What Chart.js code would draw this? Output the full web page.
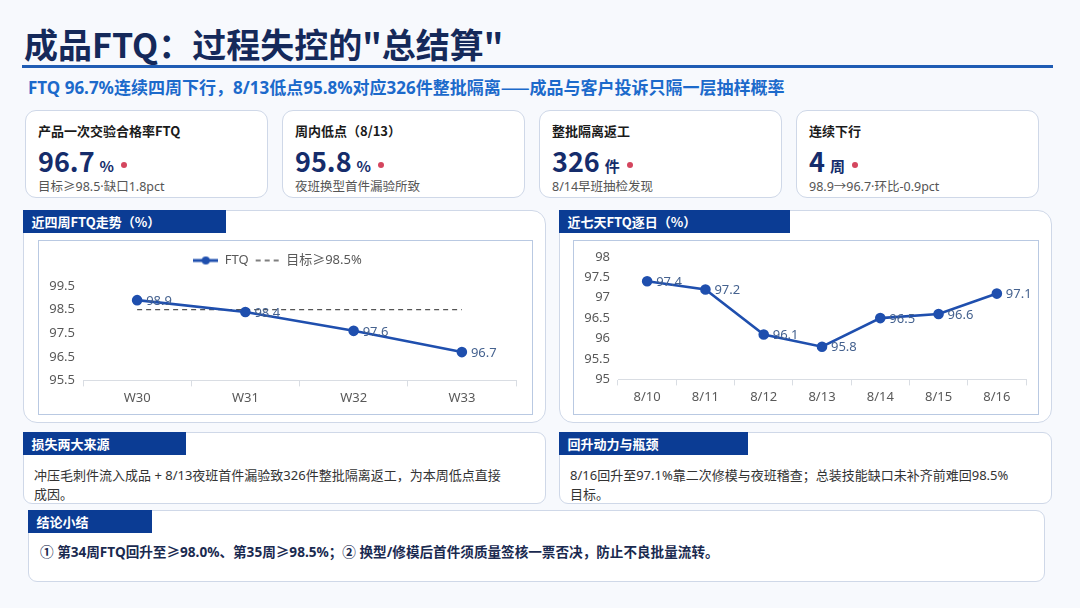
<!DOCTYPE html>
<html><head><meta charset="utf-8">
<script src="https://cdn.jsdelivr.net/npm/chart.js@4/dist/chart.umd.min.js"></script>
<style>
*{box-sizing:border-box;margin:0;padding:0}
body{width:1080px;height:608px;background:#f7f9fd;font-family:"Noto Sans CJK SC","Noto Sans",sans-serif;position:relative;overflow:hidden;color:#222}
.abs{position:absolute}
.mix{font-family:"Noto Sans","Noto Sans CJK SC",sans-serif}
.cjk{font-family:"Noto Sans CJK SC",sans-serif}
#title{left:24px;top:22px;font-size:34px;font-weight:700;color:#15295a;line-height:44px;white-space:nowrap}
#rule{left:22px;top:65px;width:1031px;height:3px;background:#1f5cb4}
#sub{left:28px;top:76px;font-size:17px;font-weight:700;color:#1c6acb;line-height:22px;white-space:nowrap}
.card{top:110px;width:243px;height:88px;background:#fff;border:1.5px solid #cfd8e8;border-radius:11px}
.card .lab{position:absolute;left:12px;top:10px;font-size:13px;font-weight:700;color:#1a1a1a;line-height:20px;white-space:nowrap}
.card .val{position:absolute;left:12px;top:32px;font-size:27px;font-weight:700;color:#152c6b;line-height:36px;white-space:nowrap}
.card .val small{font-size:15px;font-weight:700;margin-left:5px}
.card .val i{display:inline-block;width:6px;height:6px;border-radius:3px;background:#d4465e;margin-left:7px;vertical-align:4px}
.card .note{position:absolute;left:12px;top:67px;font-size:12.5px;color:#555;line-height:18px;white-space:nowrap}
.panel{background:#fff;border:1.5px solid #cfd8e8;border-radius:14px}
.tab{position:absolute;left:-1.5px;top:-1.5px;height:23px;background:#0b3c94;color:#fff;font-size:13px;font-weight:700;line-height:23px;padding-left:9px;white-space:nowrap}
.inner{position:absolute;background:#fff;border:1px solid #b9c9e2}
.inner canvas{position:absolute;left:0;top:0}
.txt{position:absolute;left:10px;top:33px;font-size:13px;color:#333;line-height:19px}
</style></head><body>
<div id="title" class="abs">成品FTQ：过程失控的"总结算"</div>
<div id="rule" class="abs"></div>
<div id="sub" class="abs mix">FTQ 96.7%连续四周下行，8/13低点95.8%对应326件整批隔离<span class="cjk">——</span>成品与客户投诉只隔一层抽样概率</div>

<div class="card abs" style="left:25px"><div class="lab">产品一次交验合格率FTQ</div><div class="val">96.7<small>%</small><i></i></div><div class="note mix">目标≥98.5·缺口1.8pct</div></div>
<div class="card abs" style="left:282px"><div class="lab">周内低点（8/13）</div><div class="val">95.8<small>%</small><i></i></div><div class="note mix">夜班换型首件漏验所致</div></div>
<div class="card abs" style="left:539px"><div class="lab">整批隔离返工</div><div class="val">326<small>件</small><i></i></div><div class="note mix">8/14早班抽检发现</div></div>
<div class="card abs" style="left:796px"><div class="lab">连续下行</div><div class="val">4<small>周</small><i></i></div><div class="note mix">98.9→96.7·环比-0.9pct</div></div>

<div class="panel abs" style="left:23px;top:210px;width:523px;height:213px">
  <div class="tab" style="width:203px">近四周FTQ走势（%）</div>
  <div class="inner" style="left:13.5px;top:28.5px;width:495px;height:175px"><canvas id="c1" width="493" height="173"></canvas></div>
</div>
<div class="panel abs" style="left:559px;top:210px;width:493px;height:213px">
  <div class="tab" style="width:231px">近七天FTQ逐日（%）</div>
  <div class="inner" style="left:12.5px;top:28.5px;width:466px;height:175px"><canvas id="c2" width="464" height="173"></canvas></div>
</div>

<div class="panel abs" style="left:23px;top:432px;width:523px;height:72px;border-radius:9px">
  <div class="tab" style="width:163px">损失两大来源</div>
  <div class="txt mix" style="width:478px">冲压毛刺件流入成品 + 8/13夜班首件漏验致326件整批隔离返工，为本周低点直接成因。</div>
</div>
<div class="panel abs" style="left:559px;top:432px;width:493px;height:72px;border-radius:9px">
  <div class="tab" style="width:189px">回升动力与瓶颈</div>
  <div class="txt mix" style="width:450px">8/16回升至97.1%靠二次修模与夜班稽查；总装技能缺口未补齐前难回98.5%目标。</div>
</div>
<div class="panel abs" style="left:28px;top:510px;width:1017px;height:72px;border-radius:9px">
  <div class="tab" style="width:124px">结论小结</div>
  <div class="txt mix" style="left:11px;top:31px;font-size:13.6px;font-weight:700;color:#1a2a50;white-space:nowrap">① 第34周FTQ回升至≥98.0%、第35周≥98.5%；② 换型/修模后首件须质量签核一票否决，防止不良批量流转。</div>
</div>

<script>
const weekLabels = ['W30','W31','W32','W33'];
const weekFTQ = [98.9, 98.4, 97.6, 96.7];
const weekTarget = [98.5, 98.5, 98.5, 98.5];
const dayLabels = ['8/10','8/11','8/12','8/13','8/14','8/15','8/16'];
const dayFTQ = [97.4, 97.2, 96.1, 95.8, 96.5, 96.6, 97.1];

const BLUE = '#1f4fae';
const TICK = '#595959';
const FONT = '"Noto Sans","Noto Sans CJK SC",sans-serif';

const valueLabels = {
  id: 'valueLabels',
  afterDatasetsDraw(chart) {
    const ctx = chart.ctx;
    ctx.save();
    ctx.font = '13px ' + FONT;
    ctx.fillStyle = '#45628f';
    ctx.textAlign = 'left';
    ctx.textBaseline = 'middle';
    chart.data.datasets.forEach((ds, i) => {
      if (!ds.showValues) return;
      chart.getDatasetMeta(i).data.forEach((pt, j) => {
        ctx.fillText(String(ds.data[j]), pt.x + 9, pt.y + 1);
      });
    });
    ctx.restore();
  }
};

const legendGap = {
  id: 'legendGap',
  beforeInit(chart) {
    const lg = chart.legend;
    if (!lg) return;
    const orig = lg.fit;
    lg.fit = function () { orig.call(this); this.height += 9; };
  }
};

function legendIcon(kind) {
  const c = document.createElement('canvas');
  c.width = 25; c.height = 10;
  const g = c.getContext('2d');
  g.beginPath();
  if (kind === 'line') {
    g.strokeStyle = BLUE; g.lineWidth = 3;
    g.moveTo(0, 5); g.lineTo(25, 5); g.stroke();
    g.fillStyle = BLUE; g.beginPath(); g.arc(12.5, 5, 4, 0, Math.PI * 2); g.fill();
  } else {
    g.strokeStyle = '#555'; g.lineWidth = 1.5; g.setLineDash([5, 4]);
    g.moveTo(1, 5); g.lineTo(25, 5); g.stroke();
  }
  return c;
}

function xScale() {
  return {
    offset: true,
    grid: { display: true, drawOnChartArea: false, drawTicks: true, tickLength: 6, offset: true, color: '#d9dde3' },
    border: { display: true, color: '#d9dde3' },
    ticks: { color: TICK, font: { size: 13, family: FONT }, padding: 4 }
  };
}
function yScale(min, max, step) {
  return {
    min: min, max: max,
    grid: { display: false, drawTicks: false },
    border: { display: false },
    ticks: { stepSize: step, color: TICK, font: { size: 13, family: FONT }, padding: 8, callback: v => String(v) },
    afterFit(s) { s.width = 44; }
  };
}

new Chart(document.getElementById('c1'), {
  type: 'line',
  data: {
    labels: weekLabels,
    datasets: [
      { label: 'FTQ', data: weekFTQ, borderColor: BLUE, backgroundColor: BLUE, borderWidth: 2.6, pointRadius: 4, pointHoverRadius: 4, tension: 0, showValues: true },
      { label: '目标≥98.5%', data: weekTarget, borderColor: '#555', borderWidth: 1.3, borderDash: [5, 4], pointRadius: 0, tension: 0 }
    ]
  },
  options: {
    responsive: false, animation: false,
    layout: { padding: { left: 0, right: 16, top: 7, bottom: 4 } },
    plugins: {
      tooltip: { enabled: false },
      legend: {
        position: 'top', align: 'center',
        labels: {
          usePointStyle: true, pointStyleWidth: 25, boxHeight: 13, padding: 6,
          color: TICK, font: { size: 13, family: FONT },
          generateLabels(chart) {
            return chart.data.datasets.map((ds, i) => ({
              text: ds.label, datasetIndex: i, hidden: false, fontColor: TICK,
              pointStyle: legendIcon(i === 0 ? 'line' : 'dash'), lineWidth: 0, strokeStyle: 'transparent', fillStyle: 'transparent'
            }));
          }
        }
      }
    },
    scales: { x: xScale(), y: yScale(95.5, 99.5, 1) }
  },
  plugins: [valueLabels, legendGap]
});

new Chart(document.getElementById('c2'), {
  type: 'line',
  data: {
    labels: dayLabels,
    datasets: [
      { label: 'FTQ', data: dayFTQ, borderColor: BLUE, backgroundColor: BLUE, borderWidth: 2.6, pointRadius: 4, pointHoverRadius: 4, tension: 0, showValues: true }
    ]
  },
  options: {
    responsive: false, animation: false,
    layout: { padding: { left: 0, right: 12, top: 7, bottom: 5 } },
    plugins: { tooltip: { enabled: false }, legend: { display: false } },
    scales: { x: xScale(), y: yScale(95, 98, 0.5) }
  },
  plugins: [valueLabels]
});
</script>
</body></html>
